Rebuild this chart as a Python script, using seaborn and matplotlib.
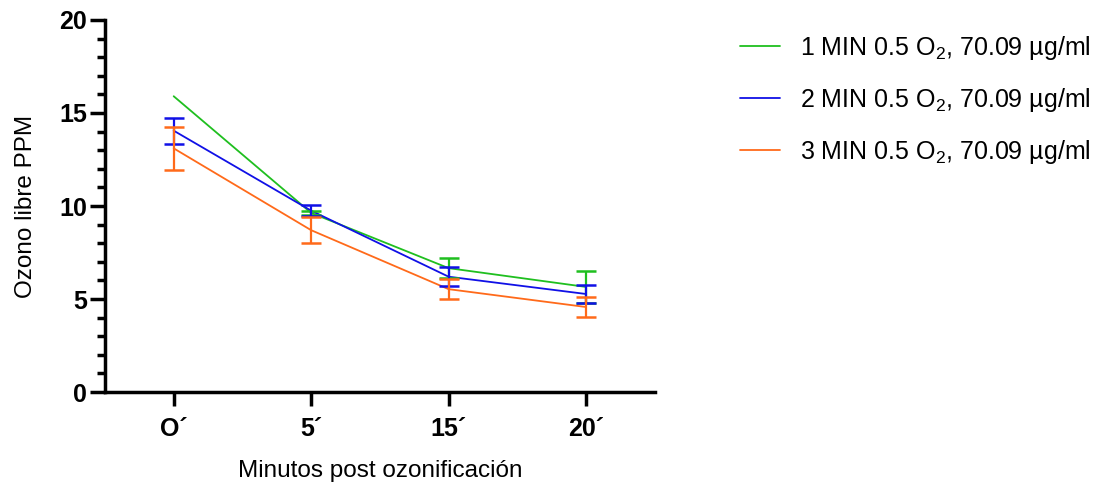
import matplotlib
matplotlib.use("Agg")
import matplotlib.pyplot as plt
import seaborn as sns
import pandas as pd
import numpy as np
from matplotlib.ticker import MultipleLocator

categories = ["O´", "5´", "15´", "20´"]
series_names = ["1 MIN 0.5 O$_2$, 70.09 µg/ml",
                "2 MIN 0.5 O$_2$, 70.09 µg/ml",
                "3 MIN 0.5 O$_2$, 70.09 µg/ml"]
green_mean = [15.9, 9.63, 6.66, 5.65]
green_err = [0.0, 0.11, 0.55, 0.88]
blue_mean = [14.05, 9.75, 6.2, 5.27]
blue_err = [0.7, 0.3, 0.52, 0.5]
orange_mean = [13.1, 8.7, 5.53, 4.57]
orange_err = [1.15, 0.7, 0.54, 0.54]
colors = ["#1fbf1f", "#1010e6", "#ff6a1a"]

sns.set_style("white")
plt.rcParams["font.family"] = ["Liberation Sans", "DejaVu Sans"]
plt.rcParams["mathtext.default"] = "regular"
for k in ["text.color", "axes.labelcolor", "xtick.color", "ytick.color", "axes.edgecolor"]:
    plt.rcParams[k] = "black"

rows = []
for name, m in zip(series_names, [green_mean, blue_mean, orange_mean]):
    for i, c in enumerate(categories):
        rows.append({"x": i, "y": m[i], "serie": name})
df = pd.DataFrame(rows)

fig = plt.figure(figsize=(11.13, 4.87), dpi=100)
ax = fig.add_axes([0.0943, 0.195, 0.494, 0.764])

sns.lineplot(data=df, x="x", y="y", hue="serie", palette=colors, ax=ax,
             linewidth=1.3, legend=True)
for m, e, col in zip([green_mean, blue_mean, orange_mean],
                     [green_err, blue_err, orange_err], colors):
    idx = [i for i in range(len(categories)) if e[i] > 0]
    ax.errorbar([i for i in idx], [m[i] for i in idx], yerr=[e[i] for i in idx],
                fmt="none", ecolor=col, elinewidth=1.6, capsize=7, capthick=1.8)

ax.set_xlim(-0.5, 3.5)
ax.set_ylim(0, 20)
ax.set_xticks(range(len(categories)))
ax.set_xticklabels(categories, fontsize=18, fontweight="bold")
ax.yaxis.set_major_locator(MultipleLocator(5))
ax.yaxis.set_minor_locator(MultipleLocator(1))
for lab in ax.get_yticklabels():
    lab.set_fontsize(18)
    lab.set_fontweight("bold")
ax.tick_params(axis="y", which="major", length=11, width=2.5, direction="out", left=True, pad=2, colors="black")
ax.tick_params(axis="y", which="minor", length=6, width=2.5, direction="out", left=True, colors="black")
ax.tick_params(axis="x", which="major", length=10, width=2.5, direction="out", bottom=True, pad=8, colors="black")
for s in ["top", "right"]:
    ax.spines[s].set_visible(False)
for s in ["left", "bottom"]:
    ax.spines[s].set_linewidth(2.5)
    ax.spines[s].set_color("black")
ax.set_xlabel("Minutos post ozonificación", fontsize=17.5, labelpad=14, color="black")
ax.set_ylabel("Ozono libre PPM", fontsize=17.5, labelpad=16, color="black")

handles, labels = ax.get_legend_handles_labels()
leg = ax.legend(handles, labels, loc="upper left", bbox_to_anchor=(0.665, 0.93),
                bbox_transform=fig.transFigure, frameon=False, fontsize=18,
                handlelength=1.6, labelspacing=0.95, handletextpad=0.8, borderpad=0,
                borderaxespad=0)
for t in leg.get_texts():
    t.set_color("black")

fig.savefig("out.png", dpi=100)
